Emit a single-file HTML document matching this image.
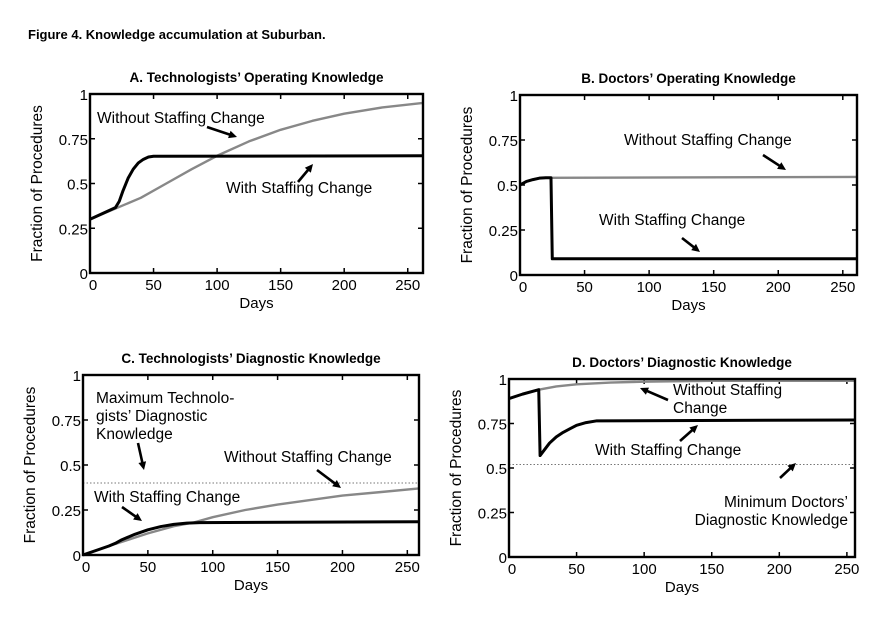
<!DOCTYPE html>
<html><head><meta charset="utf-8"><style>
body{margin:0;background:#fff}
svg{display:block;font-family:"Liberation Sans",Arial,sans-serif}
</style></head><body>
<svg id="fig" width="893" height="628" viewBox="0 0 893 628">
<text x="28" y="39" font-size="13" font-weight="bold">Figure 4. Knowledge accumulation at Suburban.</text>
</svg>
<script>
// Panel A
const daysA_without=[0,20,40,60,80,100,125,150,175,200,230,262];
const valsA_without=[0.30,0.36,0.42,0.50,0.58,0.655,0.735,0.80,0.85,0.89,0.925,0.95];
const daysA_with=[0,20,23,26,30,34,38,42,46,50,262];
const valsA_with=[0.30,0.365,0.40,0.46,0.53,0.58,0.615,0.635,0.648,0.652,0.655];
// Panel B
const daysB_without=[0,5,10,15,20,261];
const valsB_without=[0.50,0.52,0.53,0.538,0.54,0.545];
const daysB_with=[0,5,10,15,20,24,25,261];
const valsB_with=[0.50,0.52,0.53,0.538,0.54,0.54,0.09,0.09];
// Panel C
const daysC_without=[0,10,20,35,50,70,85,100,125,150,175,200,230,259];
const valsC_without=[0,0.025,0.05,0.085,0.12,0.16,0.18,0.21,0.25,0.28,0.305,0.33,0.35,0.37];
const daysC_with=[0,10,20,25,30,40,50,60,70,80,90,259];
const valsC_with=[0,0.025,0.05,0.065,0.085,0.115,0.14,0.158,0.17,0.177,0.18,0.185];
const maxC=[0.40];
// Panel D
const daysD_without=[0,10,22,35,50,75,100,150,256];
const valsD_without=[0.89,0.915,0.94,0.958,0.97,0.98,0.985,0.99,0.99];
const daysD_with=[0,10,22,23,26,30,35,40,45,50,57,65,256];
const valsD_with=[0.89,0.915,0.94,0.57,0.60,0.64,0.675,0.70,0.72,0.74,0.755,0.765,0.77];
const minD=[0.52];
const xTicks=[0,50,100,150,200,250];
const yTicks=[0,0.25,0.5,0.75,1];
const yTickLabels=["0","0.25","0.5","0.75","1"];

const NS="http://www.w3.org/2000/svg";
const svg=document.getElementById('fig');
function mk(tag,attrs,parent){const e=document.createElementNS(NS,tag);for(const k in attrs)e.setAttribute(k,attrs[k]);(parent||svg).appendChild(e);return e;}
function txt(x,y,s,size,parent,anchor,weight){const t=mk('text',{x:x,y:y,'font-size':size,'text-anchor':anchor||'start'},parent);if(weight)t.setAttribute('font-weight',weight);t.textContent=s;return t;}
let clipId=0;
function panel(p){
  const g=mk('g',{});
  
  
  const sx=d=>p.L+d*(p.R-p.L)/p.xmax;
  const sy=v=>p.B-v*(p.B-p.T);
  const cid='clip'+(clipId++);
  const cp=mk('clipPath',{id:cid},g);
  mk('rect',{x:p.L,y:p.T-3,width:p.R-p.L,height:p.B-p.T+6},cp);
  const t=txt((p.L+p.R)/2,p.T-12,p.title,13.5,g,'middle','bold');
  
  
  xTicks.forEach(d=>{
    mk('line',{x1:sx(d),x2:sx(d),y1:p.B,y2:p.B-5,stroke:'#000','stroke-width':1.5},g);
    mk('line',{x1:sx(d),x2:sx(d),y1:p.T,y2:p.T+5,stroke:'#000','stroke-width':1.5},g);
    const l=txt(sx(d)+(d===0?3:0),p.B+17,String(d),15,g,'middle');
    
    
  });
  yTicks.forEach((v,i)=>{
    mk('line',{x1:p.L,x2:p.L+5,y1:sy(v),y2:sy(v),stroke:'#000','stroke-width':1.5},g);
    mk('line',{x1:p.R,x2:p.R-5,y1:sy(v),y2:sy(v),stroke:'#000','stroke-width':1.5},g);
    const l=txt(p.L-2,sy(v)+6,yTickLabels[i],15,g,'end');
    
    
  });
  const xl=txt((p.L+p.R)/2,p.B+35,'Days',15,g,'middle');
  
  
  const cy=(p.T+p.B)/2, cx=p.L-48;
  const yl=txt(cx,cy,'Fraction of Procedures',15.5,g,'middle');
  yl.setAttribute('transform','rotate(-90 '+cx+' '+cy+')');
  
  
  if(p.ref!==undefined){
    const r=mk('line',{x1:p.L,x2:p.R,y1:sy(p.ref[0]),y2:sy(p.ref[0]),stroke:'#777','stroke-width':1,'stroke-dasharray':'1.5 2'},g);
    
    
  }
  const pts=(ds,vs)=>ds.map((d,i)=>sx(d)+','+sy(vs[i])).join(' ');
  const w=mk('polyline',{points:pts(p.dw,p.vw),fill:'none',stroke:'#888','stroke-width':2.4,'stroke-linejoin':'round','clip-path':'url(#'+cid+')'},g);
  
  
  const s=mk('polyline',{points:pts(p.ds,p.vs),fill:'none',stroke:'#000','stroke-width':3,'stroke-linejoin':'round','clip-path':'url(#'+cid+')'},g);
  
  
  const box=mk('rect',{x:p.L,y:p.T,width:p.R-p.L,height:p.B-p.T,fill:'none',stroke:'#000','stroke-width':2.4},g);
  
  
  p.notes.forEach(n=>{
    const a=txt(n[0],n[1],n[2],15.5,g,n[3]||'start');
    
    
  });
  p.arrows.forEach(a=>{
    const [x1,y1,x2,y2]=a;
    const ang=Math.atan2(y2-y1,x2-x1),h=9;
    mk('line',{x1:x1,y1:y1,x2:x2-Math.cos(ang)*6,y2:y2-Math.sin(ang)*6,stroke:'#000','stroke-width':2.6},g);
    const p1=[x2-h*Math.cos(ang-0.45),y2-h*Math.sin(ang-0.45)],p2=[x2-h*Math.cos(ang+0.45),y2-h*Math.sin(ang+0.45)];
    const ah=mk('polygon',{points:x2+','+y2+' '+p1.join(',')+' '+p2.join(','),fill:'#000'},g);
    
    
  });
}
panel({name:'panel-a',title:'A. Technologists\u2019 Operating Knowledge',L:90,R:423,T:94,B:273,xmax:262,
 dw:daysA_without,vw:valsA_without,ds:daysA_with,vs:valsA_with,
 notes:[[97,123,'Without Staffing Change'],[226,193,'With Staffing Change']],
 arrows:[[207,127,237,137],[298,182,313,164]]});
panel({name:'panel-b',title:'B. Doctors\u2019 Operating Knowledge',L:520,R:857,T:95,B:275,xmax:261,
 dw:daysB_without,vw:valsB_without,ds:daysB_with,vs:valsB_with,
 notes:[[624,145,'Without Staffing Change'],[599,225,'With Staffing Change']],
 arrows:[[763,155,786,170],[682,238,700,252]]});
panel({name:'panel-c',title:'C. Technologists\u2019 Diagnostic Knowledge',L:83,R:419,T:375,B:555,xmax:259,ref:maxC,
 dw:daysC_without,vw:valsC_without,ds:daysC_with,vs:valsC_with,
 notes:[[96,403,'Maximum Technolo-'],[96,421,'gists\u2019 Diagnostic'],[96,439,'Knowledge'],[224,462,'Without Staffing Change'],[94,502,'With Staffing Change']],
 arrows:[[138,443,144,470],[317,470,341,488],[122,507,142,521]]});
panel({name:'panel-d',title:'D. Doctors\u2019 Diagnostic Knowledge',L:509,R:855,T:379,B:557,xmax:256,ref:minD,
 dw:daysD_without,vw:valsD_without,ds:daysD_with,vs:valsD_with,
 notes:[[673,395,'Without Staffing'],[673,413,'Change'],[595,455,'With Staffing Change'],[848,507,'Minimum Doctors\u2019','end'],[848,525,'Diagnostic Knowledge','end']],
 arrows:[[668,400,640,388],[680,441,698,425],[780,478,796,463]]});
</script>
</body></html>
